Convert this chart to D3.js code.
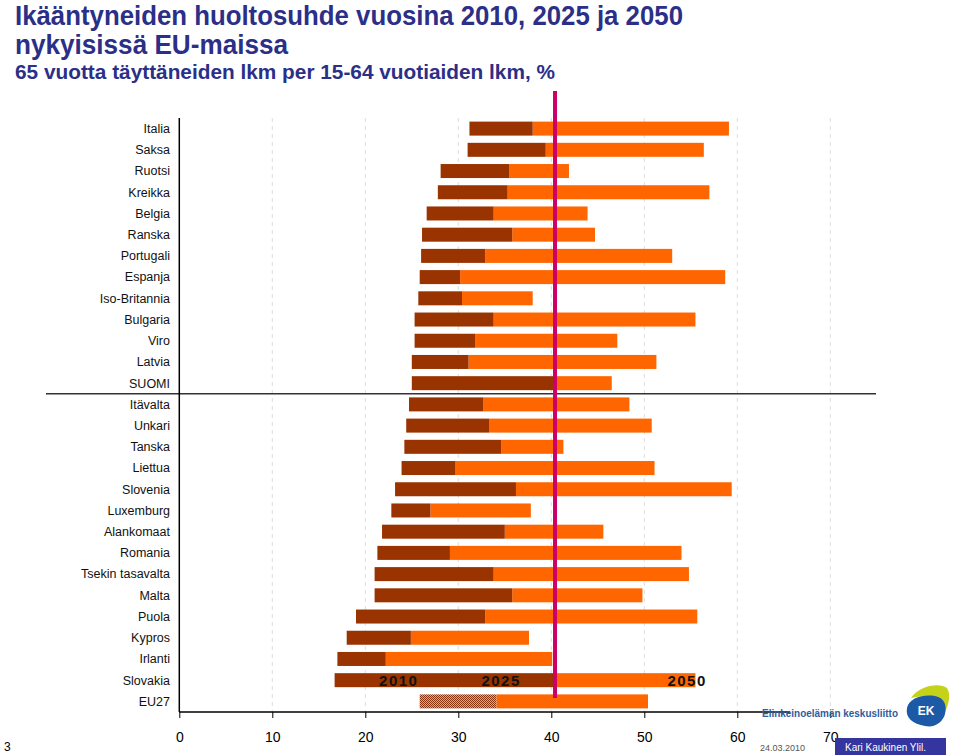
<!DOCTYPE html>
<html>
<head>
<meta charset="utf-8">
<script src="https://d3js.org/d3.v7.min.js"></script>
<style>
  html, body { margin: 0; padding: 0; background: #fff; }
  svg { display: block; font-family: "Liberation Sans", Arial, sans-serif; }
</style>
</head>
<body>
<svg id="chart" width="959" height="755"></svg>
<script>
// ---------------- DATA ----------------
const countries = ["Italia","Saksa","Ruotsi","Kreikka","Belgia","Ranska","Portugali","Espanja",
  "Iso-Britannia","Bulgaria","Viro","Latvia","SUOMI","Itävalta","Unkari","Tanska","Liettua",
  "Slovenia","Luxemburg","Alankomaat","Romania","Tsekin tasavalta","Malta","Puola","Kypros",
  "Irlanti","Slovakia","EU27"];
const values2010 = [31.2,31.0,28.1,27.8,26.6,26.1,26.0,25.85,25.7,25.3,25.3,25.0,25.0,24.7,24.4,
  24.2,23.9,23.2,22.8,21.8,21.3,21.0,21.0,19.0,18.0,17.0,16.7,25.85];
const values2025 = [38.0,39.4,35.5,35.3,33.8,35.8,32.9,30.2,30.4,33.8,31.8,31.1,40.2,32.7,33.3,
  34.6,29.7,36.2,27.0,35.0,29.1,33.8,35.8,32.9,24.9,22.2,40.2,34.1];
const values2050 = [59.1,56.4,41.9,57.0,43.9,44.7,53.0,58.7,38.0,55.5,47.1,51.3,46.5,48.4,50.8,
  41.3,51.1,59.4,37.8,45.6,54.0,54.8,49.8,55.7,37.6,40.1,55.5,50.4];
const xTicks = [0,10,20,30,40,50,60,70];
const yearLabels = ["2010","2025","2050"];
const yearLabelPositions = [23.6, 34.6, 54.6];   // x-values where the year labels sit
const referenceValue = 40.4;                      // vertical magenta line
const dividerAfter = "SUOMI";

// ---------------- LAYOUT ----------------
const svg = d3.select("#chart");
const x = d3.scaleLinear().domain([0, 70]).range([179.3, 830.3]);
const y = d3.scaleBand().domain(countries).range([118, 712]).paddingInner(0.34).paddingOuter(0.17);

const DARK = "#993300", ORANGE = "#ff6600", NAVY = "#2b2f87";

// hatch pattern for EU27
const defs = svg.append("defs");
const pat = defs.append("pattern").attr("id","dots").attr("width",2).attr("height",2)
  .attr("patternUnits","userSpaceOnUse");
pat.append("rect").attr("width",2).attr("height",2).attr("fill","#e3a57a");
pat.append("rect").attr("width",1).attr("height",1).attr("fill","#8a3510");
pat.append("rect").attr("x",1).attr("y",1).attr("width",1).attr("height",1).attr("fill","#8a3510");

// titles
svg.append("text").attr("x",15).attr("y",25).attr("fill",NAVY)
  .style("font-size","27px").style("font-weight","bold")
  .attr("textLength",668).attr("lengthAdjust","spacingAndGlyphs")
  .text("Ikääntyneiden huoltosuhde vuosina 2010, 2025 ja 2050");
svg.append("text").attr("x",15).attr("y",54).attr("fill",NAVY)
  .style("font-size","27px").style("font-weight","bold")
  .attr("textLength",273).attr("lengthAdjust","spacingAndGlyphs")
  .text("nykyisissä EU-maissa");
svg.append("text").attr("x",15).attr("y",79).attr("fill",NAVY)
  .style("font-size","20px").style("font-weight","bold")
  .attr("textLength",540).attr("lengthAdjust","spacingAndGlyphs")
  .text("65 vuotta täyttäneiden lkm per 15-64 vuotiaiden lkm, %");

// gridlines
svg.append("g").selectAll("line").data(xTicks.slice(1)).join("line")
  .attr("x1", d => x(d)).attr("x2", d => x(d))
  .attr("y1", 118).attr("y2", 712)
  .attr("stroke", "#dcdcdc").attr("stroke-width", 1).attr("stroke-dasharray", "4,4");

// bars
const rows = countries.map((c, i) => ({c, a: values2010[i], b: values2025[i], e: values2050[i]}));
const g = svg.append("g");
rows.forEach(r => {
  const isEU = r.c === "EU27";
  // orange 2025 -> 2050
  g.append("rect").attr("x", x(r.b)).attr("y", y(r.c))
    .attr("width", Math.max(0, x(r.e) - x(r.b))).attr("height", y.bandwidth()).attr("fill", ORANGE);
  // dark 2010 -> 2025
  g.append("rect").attr("x", x(r.a)).attr("y", y(r.c))
    .attr("width", x(r.b) - x(r.a)).attr("height", y.bandwidth())
    .attr("fill", isEU ? "url(#dots)" : DARK);
});

// divider line below SUOMI
const divY = y(dividerAfter) + y.bandwidth() + (y.step() - y.bandwidth()) / 2;
svg.append("line").attr("x1", 46).attr("x2", 876).attr("y1", divY).attr("y2", divY)
  .attr("stroke", "#333").attr("stroke-width", 1.5);

// y axis line + labels
svg.append("line").attr("x1", x(0)).attr("x2", x(0)).attr("y1", 118).attr("y2", 712)
  .attr("stroke", "#000").attr("stroke-width", 1.5);
svg.append("g").selectAll("text").data(countries).join("text")
  .attr("x", 170).attr("y", d => y(d) + y.bandwidth() / 2).attr("dy", "0.35em")
  .attr("text-anchor", "end").attr("fill", "#111").style("font-size", "12.5px")
  .text(d => d);

// x axis
const xAxis = svg.append("g").attr("transform", "translate(0,712)")
  .call(d3.axisBottom(x).tickValues(xTicks).tickSize(6).tickPadding(14).tickFormat(d3.format("d")));
xAxis.select(".domain").remove();
xAxis.selectAll(".tick line").attr("stroke", "#000").attr("stroke-width", 1);
xAxis.selectAll(".tick text").style("font-size", "14px").attr("fill", "#000")
  .style("font-family", "'Liberation Sans', Arial, sans-serif");
svg.append("line").attr("x1", x(0)).attr("x2", 790).attr("y1", 712).attr("y2", 712)
  .attr("stroke", "#000").attr("stroke-width", 1.5);

// reference line
svg.append("line").attr("x1", x(referenceValue)).attr("x2", x(referenceValue))
  .attr("y1", 91).attr("y2", 698).attr("stroke", "#cc0066").attr("stroke-width", 4);

// year labels
svg.append("g").selectAll("text").data(yearLabels).join("text")
  .attr("x", (d, i) => x(yearLabelPositions[i])).attr("y", y("Slovakia") + y.bandwidth() / 2)
  .attr("dy", "0.36em").attr("text-anchor", "middle")
  .style("font-size", "15px").style("font-weight", "bold").style("letter-spacing", "1.5px")
  .attr("fill", "#111").text(d => d);

// footer
svg.append("text").attr("x", 4).attr("y", 751).style("font-size", "12px").attr("fill", "#000").text("3");
svg.append("text").attr("x", 760).attr("y", 751).style("font-size", "9px").attr("fill", "#555").text("24.03.2010");
svg.append("rect").attr("x", 835).attr("y", 738).attr("width", 111).attr("height", 17).attr("fill", "#3535a0");
svg.append("text").attr("x", 845).attr("y", 751).style("font-size", "10px").attr("fill", "#fff").text("Kari Kaukinen Ylil.");

// logo
svg.append("text").attr("x", 762).attr("y", 717).style("font-size", "10.5px").style("font-weight", "bold")
  .attr("fill", "#2f5c9e").attr("textLength", 136).attr("lengthAdjust", "spacingAndGlyphs")
  .text("Elinkeinoelämän keskusliitto");
const logo = svg.append("g").attr("transform", "translate(905,684)");
logo.append("path").attr("d", "M6,14 C14,2 34,-2 42,4 C46,10 44,20 40,28 C40,18 32,8 6,14 Z").attr("fill", "#c4d21a");
logo.append("path").attr("d", "M2,24 C4,14 18,10 30,12 C40,14 42,22 40,30 C38,38 30,44 20,42 C8,40 0,34 2,24 Z").attr("fill", "#1c5aa8");
logo.append("text").attr("x", 21).attr("y", 31).attr("text-anchor", "middle")
  .style("font-size", "12px").style("font-weight", "bold").attr("fill", "#fff").text("EK");
</script>
</body>
</html>
